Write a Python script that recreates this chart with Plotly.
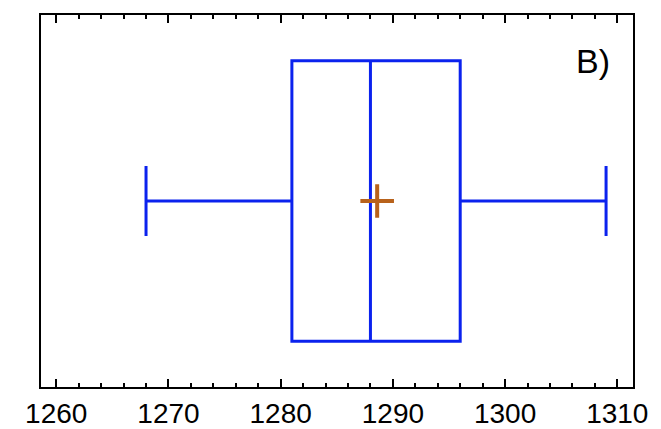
import plotly.graph_objects as go

# Data
q1_vals = [1281]
median_vals = [1288]
q3_vals = [1296]
lower_whisker = [1268]
upper_whisker = [1309]
mean_vals = [1288.6]
positions = [0]
tick_vals = [1260, 1270, 1280, 1290, 1300, 1310]
tick_text = ["1260", "1270", "1280", "1290", "1300", "1310"]
panel_label = "B)"

BLUE = "#0b22ee"
BROWN = "#b8621b"

fig = go.Figure()
fig.add_trace(go.Box(
    y=positions, q1=q1_vals, median=median_vals, q3=q3_vals,
    lowerfence=lower_whisker, upperfence=upper_whisker,
    orientation="h", width=1.508, whiskerwidth=0.25,
    line=dict(color=BLUE, width=3), fillcolor="rgba(0,0,0,0)",
    boxpoints=False, showlegend=False,
))
fig.add_trace(go.Scatter(
    x=mean_vals, y=positions, mode="markers",
    marker=dict(symbol="cross-thin", size=24, line=dict(color=BROWN, width=4), color=BROWN),
    showlegend=False,
))

fig.update_layout(
    width=661, height=429,
    margin=dict(l=41, r=28, t=15, b=42),
    paper_bgcolor="white", plot_bgcolor="white",
    font=dict(family="Liberation Sans, Arial, sans-serif", color="black"),
    annotations=[dict(
        text=panel_label, xref="paper", yref="paper",
        x=(612 - 41) / (661 - 41 - 28), y=(387 - 61) / (387 - 15),
        xanchor="right", yanchor="middle", showarrow=False,
        font=dict(size=34, color="black"),
    )],
)
fig.update_xaxes(
    range=[1258.64, 1311.4], automargin=False,
    tickvals=tick_vals, ticktext=tick_text,
    ticks="inside", ticklen=8, tickwidth=2, tickcolor="black",
    minor=dict(dtick=2, ticks="inside", ticklen=4, tickwidth=1.5, tickcolor="black"),
    showline=True, linewidth=2, linecolor="black", mirror="ticks",
    showgrid=False, zeroline=False,
    tickfont=dict(size=28, color="black"),
)
fig.update_yaxes(
    range=[-1, 1], showticklabels=False, ticks="", automargin=False,
    showline=True, linewidth=2, linecolor="black", mirror=True,
    showgrid=False, zeroline=False,
)

fig.write_html("out.html")
